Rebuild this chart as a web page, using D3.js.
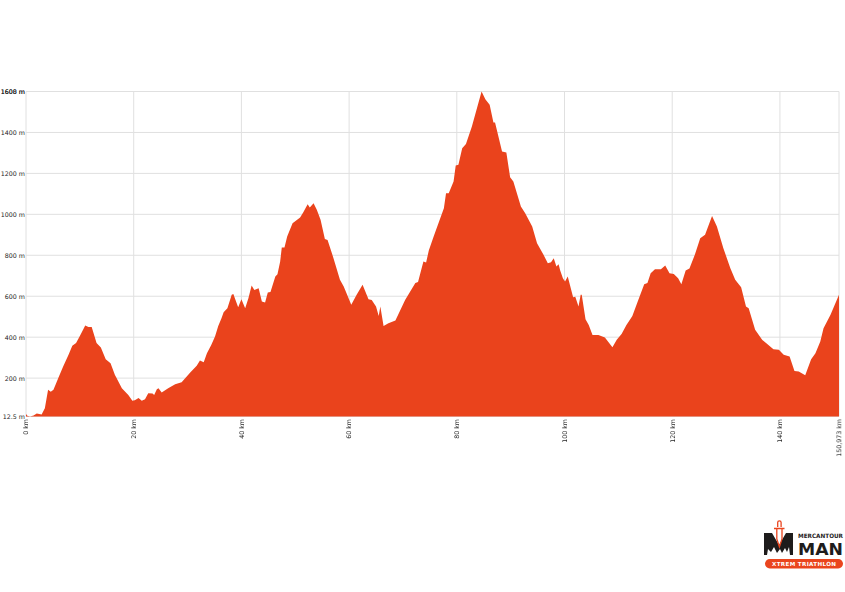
<!DOCTYPE html>
<html><head><meta charset="utf-8">
<script src="https://cdn.jsdelivr.net/npm/d3@7"></script>
<style>html,body{margin:0;padding:0;background:#fff}svg{display:block}text{font-family:"DejaVu Sans",sans-serif}</style>
</head><body><div id="chart"></div>
<script>
const distanceKm = [0,.25,.75,1.4,2,2.9,3.5,4.1,4.6,5.1,6,6.9,7.9,8.6,9.3,10,11,11.6,12.2,13.1,13.9,14.8,15.7,16.5,17.8,19,19.75,20.2,20.9,21.5,22.1,22.7,23.5,23.8,24.3,24.6,25.2,26.4,27.7,28.9,30.5,31.7,32.3,33,33.6,34.4,35.1,35.7,36.3,36.7,37.4,38.2,38.5,39.4,40,40.7,41.3,41.9,42.4,43.2,43.8,44.4,44.9,45.4,46.3,46.7,47.2,47.5,48,48.5,49.5,50.9,51.5,52.3,52.7,53.4,54,54.7,55.5,56,57.1,58.3,59,60.4,61.4,62.5,63.6,64.2,65,65.5,65.8,66.4,67.3,68.6,70.4,72.3,72.8,73.8,74.3,74.8,75.7,77.6,78,78.5,79.4,79.8,80.3,81,81.7,82.8,84.6,85.3,86.1,86.8,87.1,88.4,89.2,89.9,90.5,91.9,92.7,94,94.9,96.1,96.9,97.5,98,98.5,98.9,99.2,99.7,100.1,100.6,101.6,102,102.6,103,103.2,103.9,104.5,105.2,106.3,107.5,108.9,109.7,110.6,111.5,112.6,113.7,114.8,115.4,116,116.8,117.9,118.7,119.5,120.3,121.1,121.7,122.5,123.2,124.2,125.2,126.1,127.4,128.3,129.5,130.8,131.7,132.8,133.7,134.2,135.4,136.7,138.8,139.8,140.7,141.8,142.7,143.5,144.7,145.8,146.6,147.5,148.1,149.4,150.973];
const elevationM = [25,16,12.5,17,27,22,53,143,133,143,200,257,314,358,371,406,457,450,450,371,350,292,273,216,151,118,90,92,103,90,97,126,125,117,146,151,130,151,170,180,227,260,286,278,322,362,403,455,493,522,541,607,611,546,585,541,590,652,631,639,574,569,618,621,696,707,770,838,838,892,957,984,1010,1049,1033,1054,1022,973,879,875,786,680,647,558,607,656,585,582,550,504,550,455,468,481,582,664,669,770,765,823,892,1030,1103,1103,1160,1238,1242,1323,1343,1429,1600,1562,1535,1448,1448,1307,1302,1181,1160,1038,1005,940,859,802,761,766,786,745,756,726,688,672,696,595,598,550,607,607,488,460,410,411,398,351,387,416,460,504,582,659,664,712,732,732,750,712,709,688,659,726,735,802,883,900,992,940,834,737,680,644,550,541,436,387,341,338,314,305,235,232,214,292,322,379,444,509,607];
const yTickValues = [12.5,200,400,600,800,1000,1200,1400,1600,1600];
const yTickLabels = ["12.5 m","200 m","400 m","600 m","800 m","1000 m","1200 m","1400 m","1600 m","1608 m"];
const xTickValues = [0,20,40,60,80,100,120,140,150.973];
const xTickLabels = ["0 km","20 km","40 km","60 km","80 km","100 km","120 km","140 km","150,973 km"];

const W = 845, H = 592, L = 26, R = 839, T = 91.5, B = 416.5;
const svg = d3.select("#chart").append("svg").attr("width", W).attr("height", H);
const x = d3.scaleLinear().domain([0, 150.973]).range([L, R]);
const y = d3.scaleLinear().domain([12.5, 1600]).range([B, T]);

const grid = "#e0e0e0";
svg.append("g").selectAll("line").data(yTickValues).join("line")
  .attr("x1", L).attr("x2", R).attr("y1", d => y(d)).attr("y2", d => y(d))
  .attr("stroke", grid).attr("stroke-width", 1);
svg.append("g").selectAll("line").data(xTickValues).join("line")
  .attr("y1", T).attr("y2", B).attr("x1", d => x(d)).attr("x2", d => x(d))
  .attr("stroke", grid).attr("stroke-width", 1);

const area = d3.area().x((d, i) => x(distanceKm[i])).y0(B).y1(d => y(d));
svg.append("path").datum(elevationM).attr("d", area).attr("fill", "#ea431c");

svg.append("g").attr("opacity", 0.99).selectAll("text").data(yTickValues).join("text")
  .attr("x", L - 1).attr("y", d => y(d) + 2.4).attr("text-anchor", "end")
  .attr("font-size", 6.3).attr("fill", "#222").text((d, i) => yTickLabels[i]);
svg.append("g").attr("opacity", 0.99).selectAll("text").data(xTickValues).join("text")
  .attr("transform", d => `translate(${x(d) + 2.3},${B + 2.5}) rotate(-90)`)
  .attr("text-anchor", "end").attr("font-size", 6.3).attr("fill", "#222")
  .text((d, i) => xTickLabels[i]);

// Logo
const logo = svg.append("g").attr("opacity", 0.99);
const black = "#1c1a1a", orange = "#ea431c";
logo.append("path").attr("fill", black)
  .attr("d", "M764 555V533L772 533L779 545L786 533L793 533V555L790 555L789 547L787 552L785 548L782 553L780 549L777 553L774 547L771 552L768 549L767 555Z");
logo.append("path").attr("fill", "none").attr("stroke", orange).attr("stroke-width", 1.3)
  .attr("d", "M777.7 527V522.5a1.7 1.7 0 0 1 3.4 0V527M774 528.5H784.5M776.8 528.5V539L779.4 547L782 539V528.5");
logo.append("text").attr("x", 798).attr("y", 537.5).attr("font-family", "Roboto").attr("font-weight", 700)
  .attr("font-size", 6).attr("fill", black).attr("textLength", 45).attr("lengthAdjust", "spacingAndGlyphs").text("MERCANTOUR");
logo.append("text").attr("x", 798).attr("y", 554.5).attr("font-family", "Roboto").attr("font-weight", 900)
  .attr("font-size", 16.5).attr("fill", black).attr("textLength", 45).attr("lengthAdjust", "spacingAndGlyphs").text("MAN");
logo.append("rect").attr("x", 765).attr("y", 559).attr("width", 78).attr("height", 9.5).attr("rx", 4.75).attr("fill", orange);
logo.append("text").attr("x", 804).attr("y", 566).attr("text-anchor", "middle").attr("font-family", "Roboto").attr("font-weight", 700)
  .attr("font-size", 5.6).attr("fill", "#fff").attr("textLength", 64).attr("lengthAdjust", "spacing").text("XTREM TRIATHLON");
</script></body></html>
